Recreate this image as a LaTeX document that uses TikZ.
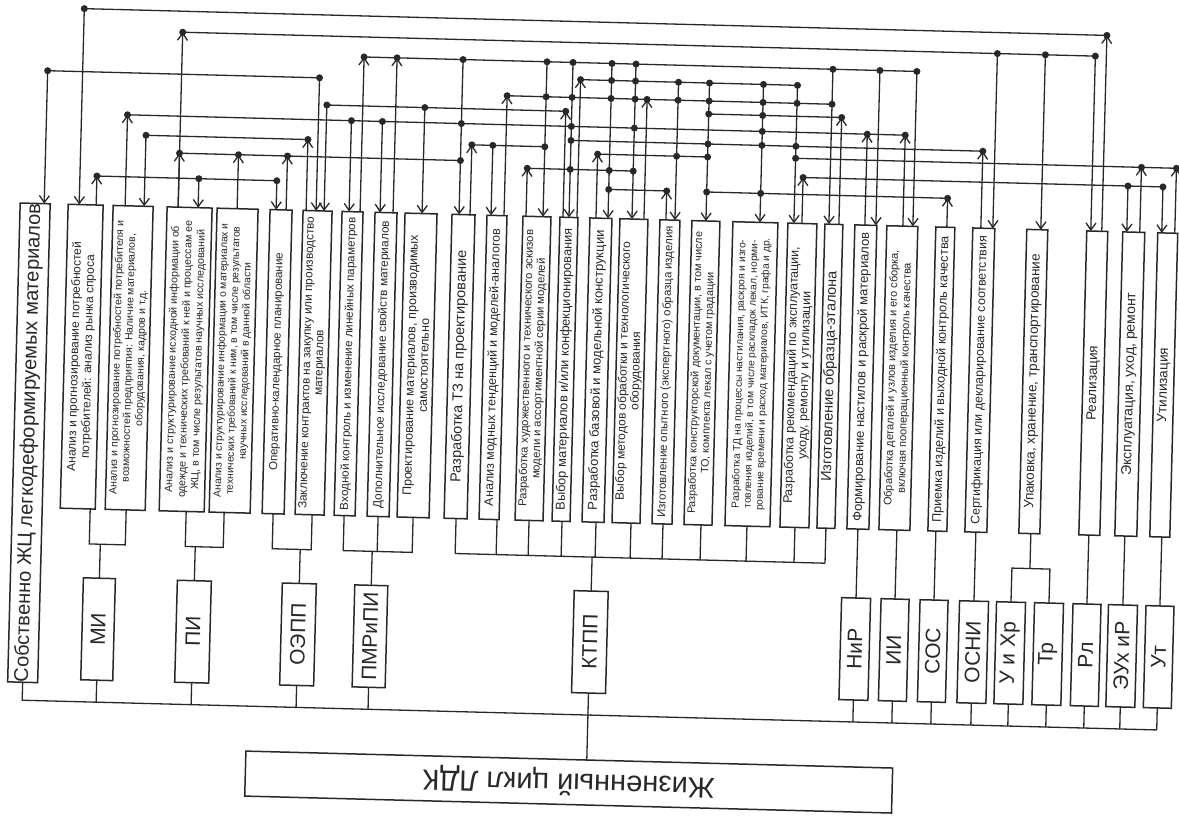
\documentclass[tikz,border=0pt]{standalone}
\usepackage{fontspec}
\setmainfont{Liberation Sans}
\usetikzlibrary{arrows.meta}
\definecolor{ink}{RGB}{40,40,40}
\newcommand\TB[6]{\node[vb, minimum width=304, minimum height={(#3)-(#2)}, font=\fontsize{#4}{#5}\selectfont] (#1) at ({((#2)+(#3))/2},370) {#6};}
\newcommand\AB[4]{\node[vb, minimum width=102, minimum height=#3, font=\fontsize{21}{21}\selectfont] (#1) at (#2,642) {#4};}
\begin{document}
\begin{tikzpicture}[x=1pt,y=-1pt,
  bx/.style={draw=ink, line width=1.5pt, inner sep=0pt, outer sep=0pt, align=center, text=ink},
  vb/.style={bx, rotate=90},
  net/.style={draw=ink, line width=1.3pt},
  tip/.style={-{Straight Barb[length=7pt,width=10pt]}}]
\useasboundingbox (0,0) rectangle (1179,816);
\fill[white] (0,0) rectangle (1179,816);
\begin{scope}[rotate around={-1.5:(590,408)}, transform shape]
% ---------- upper boxes
\node[vb, minimum width=479, minimum height=30, font=\fontsize{20}{22}\selectfont] (b1) at (30,457.5) {Собственно ЖЦ легкодеформируемых материалов};
\TB{b2}{63}{98}{12}{13.5}{Анализ и прогнозирование потребностей\\ потребителей: анализ рынка спроса}
\TB{b3}{108}{148}{10.5}{12}{Анализ и прогнозирование потребностей потребителя и\\ возможностей предприятия: Наличие материалов,\\ оборудования, кадров и т.д.}
\TB{b4}{162}{207}{10.6}{13}{Анализ и структурирование исходной информации об\\ одежде и технических требований к ней и процессам ее\\ ЖЦ, в том числе результатов научных исследований}
\TB{b5}{212}{253}{10.3}{12}{Анализ и структурирование информации о материалах и\\ технических требований к ним, в том числе результатов\\ научных исследований в данной области}
\TB{b6}{265}{287}{11.5}{12}{Оперативно-календарное планирование}
\TB{b7}{298}{327}{11.8}{12.5}{Заключение контрактов на закупку или производство\\ материалов}
\TB{b8}{337}{358}{11.6}{12}{Входной контроль и изменение линейных параметров}
\TB{b9}{370}{392}{11.8}{12}{Дополнительное исследование свойств материалов}
\TB{b10}{400}{432}{12.5}{13.5}{Проектирование материалов, производимых\\ самостоятельно}
\TB{b11}{447}{470}{14.5}{15}{Разработка ТЗ на проектирование}
\TB{b12}{482}{502}{12.5}{13}{Анализ модных тенденций и моделей-аналогов}
\TB{b13}{518}{546}{11.3}{12.5}{Разработка художественного и технического эскизов\\ модели и ассортиментной серии моделей}
\TB{b14}{555}{573}{12.8}{13}{Выбор материалов и/или конфекционирования}
\TB{b15}{585}{607}{13}{13}{Разработка базовой и модельной конструкции}
\TB{b16}{615}{643}{12}{12.5}{Выбор методов обработки и технологического\\ оборудования}
\TB{b17}{655}{675}{11.4}{12}{Изготовление опытного (экспертного) образца изделия}
\TB{b18}{687}{715}{10.8}{12.5}{Разработка конструкторской документации, в том числе\\ ТО, комплекта лекал с учетом градации}
\TB{b19}{728}{773}{10.2}{12}{Разработка ТД на процессы настилания, раскроя и изго-\\ товления изделий, в том числе раскладок лекал, норми-\\ рование времени и расход материалов, ИТК, графа и др.}
\TB{b20}{783}{812}{12.5}{13}{Разработка рекомендаций по эксплуатации,\\ уходу, ремонту и утилизации}
\TB{b21}{820}{838}{14.5}{15}{Изготовление образца-эталона}
\TB{b22}{850}{872}{13}{13}{Формирование настилов и раскрой материалов}
\TB{b23}{882}{913}{11}{13}{Обработка деталей и узлов изделия и его сборка,\\ включая пооперационный контроль качества}
\TB{b24}{931}{950}{12.6}{13}{Приемка изделий и выходной контроль качества}
\TB{b25}{968}{990}{12.4}{13}{Сертификация или декларирование соответствия}
\TB{b26}{1022}{1043}{13.5}{13.5}{Упаковка, хранение, транспортирование}
\TB{b27}{1082}{1103}{13.5}{13.5}{Реализация}
\TB{b28}{1118}{1140}{14}{14}{Эксплуатация, уход, ремонт}
\TB{b29}{1153}{1173}{13.5}{13.5}{Утилизация}
% ---------- lower boxes
\AB{mi}{104}{32}{МИ}
\AB{pi}{199}{34}{ПИ}
\AB{oepp}{304}{34}{ОЭПП}
\AB{pmr}{376}{33}{ПМРиПИ}
\AB{ktpp}{596}{34}{КТПП}
\AB{nir}{861}{29}{НиР}
\AB{ii}{900}{28}{ИИ}
\AB{sos}{939}{28}{СОС}
\AB{osni}{979}{29}{ОСНИ}
\AB{uhr}{1016}{29}{У и Хр}
\AB{tr}{1054}{29}{Тр}
\AB{rl}{1092}{28}{Рл}
\AB{eux}{1128}{29}{ЭУх иР}
\AB{ut}{1165}{28}{Ут}
\node[bx, rotate=180, minimum width=647, minimum height=45, font=\fontsize{29}{29}\selectfont] (lc) at (578.5,782.5) {Жизненный цикл ЛДК};
% ---------- brackets under upper boxes
\draw[net] (93,522) -- (93,557) -- (129,557) -- (129,522);
\draw[net] (104,557) -- (mi.east);
\draw[net] (189,522) -- (189,557) -- (227,557) -- (227,522);
\draw[net] (199,557) -- (pi.east);
\draw[net] (276,522) -- (276,557) -- (315,557) -- (315,522);
\draw[net] (304,557) -- (oepp.east);
\draw[net] (347,522) -- (347,557) -- (416,557) -- (416,522);
\draw[net] (381,522) -- (381,557);
\draw[net] (376,557) -- (pmr.east);
\draw[net] (459,557) -- (829,557);
\foreach \x in {459,500,532,565,599,634,666,704,750,798,829} \draw[net] (\x,522) -- (\x,557);
\draw[net] (596,557) -- (ktpp.east);
\draw[net] (861,522) -- (nir.east);
\draw[net] (900,522) -- (ii.east);
\draw[net] (939,522) -- (sos.east);
\draw[net] (979,522) -- (osni.east);
\draw[net] (1034,522) -- (1034,557);
\draw[net] (uhr.east) -- (1016,557) -- (1054,557) -- (tr.east);
\draw[net] (1092,522) -- (rl.east);
\draw[net] (1128,522) -- (eux.east);
\draw[net] (1165,522) -- (ut.east);
% ---------- bus
\draw[net] (b1.west) -- (30,715) -- (1165,715);
\foreach \n/\x in {mi/104,pi/199,oepp/304,pmr/376,nir/861,ii/900,sos/939,osni/979,uhr/1016,tr/1054,rl/1092,eux/1128,ut/1165} \draw[net] (\n.west) -- (\x,715);
\draw[net] (ktpp.west) -- (596,760);
% ---------- upper network: horizontal lines
\draw[net] (74,22) -- (1097,22);
\draw[net] (173,43) -- (1086,43);
\draw[net] (355,63) -- (908,63);
\draw[net] (572,80) -- (789,80);
\draw[net] (39,85) -- (311,85);
\draw[net] (499,98) -- (824,98);
\draw[net] (701,111) -- (834,111);
\draw[net] (319,112) -- (558,112);
\draw[net] (120,127) -- (898,127);
\draw[net] (564,141) -- (976,141);
\draw[net] (139,147) -- (301,147);
\draw[net] (465,148) -- (538,148);
\draw[net] (789,153) -- (1170,153);
\draw[net] (591,154) -- (701,154);
\draw[net] (173,164) -- (454,164);
\draw[net] (521,170) -- (627,170);
\draw[net] (797,172) -- (1157,172);
\draw[net] (91,189) -- (271,189);
\draw[net] (603,189) -- (661,189);
\draw[net] (701,189) -- (942,189);
% target verticals (arrow into box top)
\foreach \x/\y in {39/85,74/22,139/147,193/189,271/189,311/85,319/112,344/127,375/127,417/112,454/63,486/148,538/63,564/63,603/63,627/63,670/80,701/80,755/80,789/80,824/63,871/63,908/63,988/43,1036/43,1086/43,1122/172,1157/172}
  \draw[net,tip] (\x,\y) -- (\x,218);
% source verticals (arrow up into the line)
\foreach \x/\y in {91/189,120/127,173/43,173/164,232/164,281/164,301/147,355/63,388/63,465/148,499/98,521/170,558/112,572/80,591/154,639/98,661/189,797/172,834/111,860/127,898/127,942/189,976/141,1097/22,1135/153,1170/153}
  \draw[net,tip] (\x,218) -- (\x,\y);
% junction dots
\foreach \x in {74,1097} \fill[ink] (\x,22) circle (3.5pt);
\foreach \x in {173,988,1036,1086} \fill[ink] (\x,43) circle (3.5pt);
\foreach \x in {355,388,454,538,564,603,627,824,871,908} \fill[ink] (\x,63) circle (3.5pt);
\foreach \x in {572,603,627,670,701,755,789} \fill[ink] (\x,80) circle (3.5pt);
\foreach \x in {39,311} \fill[ink] (\x,85) circle (3.5pt);
\foreach \x in {499,538,564,603,627,639,670,701,755,789,824} \fill[ink] (\x,98) circle (3.5pt);
\foreach \x in {701,755,834} \fill[ink] (\x,111) circle (3.5pt);
\foreach \x in {319,417,558} \fill[ink] (\x,112) circle (3.5pt);
\foreach \x in {120,344,375,454,564,627,755,860,898} \fill[ink] (\x,127) circle (3.5pt);
\foreach \x in {564,701,755,789,976} \fill[ink] (\x,141) circle (3.5pt);
\foreach \x in {139,301} \fill[ink] (\x,147) circle (3.5pt);
\foreach \x in {465,486,538} \fill[ink] (\x,148) circle (3.5pt);
\foreach \x in {789,1135,1170} \fill[ink] (\x,153) circle (3.5pt);
\foreach \x in {591,670,701} \fill[ink] (\x,154) circle (3.5pt);
\foreach \x in {173,232,281,454} \fill[ink] (\x,164) circle (3.5pt);
\foreach \x in {521,564,603,627} \fill[ink] (\x,170) circle (3.5pt);
\foreach \x in {797,1122,1157} \fill[ink] (\x,172) circle (3.5pt);
\foreach \x in {91,193,271,603,661,701,755,942} \fill[ink] (\x,189) circle (3.5pt);
\end{scope}
\end{tikzpicture}
\end{document}
